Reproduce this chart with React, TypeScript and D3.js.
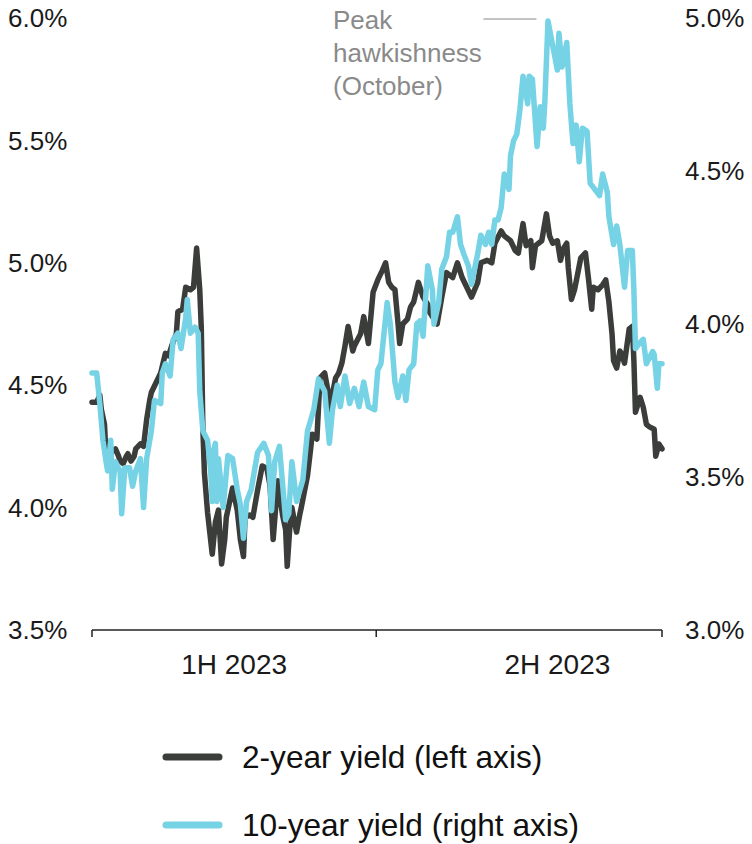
import React from "react";
import * as d3 from "d3";

// Day offsets from 1 Jan 2023 and yields (%)
const days2y = [
  0, 3, 5, 6, 8, 9, 11, 13, 15, 17,
  18, 20, 22, 23, 25, 27, 28, 31, 33, 35,
  37, 38, 41, 44, 47, 49, 51, 54, 55, 58,
  60, 63, 65, 67, 69, 70, 71, 72, 74, 77,
  79, 81, 83, 85, 86, 90, 93, 95, 97, 98,
  101, 103, 106, 109, 112, 114, 116, 118, 119, 122,
  124, 125, 127, 128, 130, 131, 133, 134, 138, 140,
  141, 144, 146, 149, 151, 152, 156, 158, 160, 162,
  164, 167, 168, 172, 174, 177, 180, 183, 186, 188,
  190, 192, 194, 196, 197, 199, 202, 204, 206, 209,
  212, 215, 216, 219, 221, 224, 227, 231, 234, 237,
  240, 243, 247, 249, 253, 256, 258, 262, 264, 268,
  271, 273, 276, 278, 281, 282, 284, 288, 291, 293,
  295, 298, 300, 302, 304, 305, 307, 309, 313, 316,
  318, 320, 321, 324, 327, 329, 331, 333, 334, 336,
  338, 339, 341, 344, 346, 347, 348, 351, 353, 355,
  357, 360, 361, 363, 365,
];
const yield2y = [
  4.43, 4.43, 4.46, 4.40, 4.34, 4.21, 4.21, 4.23, 4.24, 4.21,
  4.19, 4.18, 4.21, 4.22, 4.19, 4.21, 4.24, 4.26, 4.25, 4.36,
  4.44, 4.47, 4.51, 4.55, 4.63, 4.62, 4.66, 4.71, 4.80, 4.81,
  4.90, 4.89, 4.90, 5.06, 4.89, 4.73, 4.32, 4.14, 3.98, 3.81,
  3.94, 3.99, 3.77, 3.87, 3.96, 4.08, 3.99, 3.87, 3.80, 3.96,
  3.97, 3.96, 4.07, 4.17, 4.16, 4.09, 3.87, 4.03, 4.11, 3.97,
  3.91, 3.76, 3.95, 4.00, 3.93, 3.90, 3.97, 4.00, 4.13, 4.24,
  4.30, 4.28, 4.53, 4.55, 4.48, 4.40, 4.53, 4.55, 4.59, 4.66,
  4.74, 4.64, 4.66, 4.71, 4.78, 4.67, 4.88, 4.93, 4.97, 5.00,
  4.92, 4.90, 4.89, 4.75, 4.67, 4.75, 4.77, 4.82, 4.84, 4.92,
  4.86, 4.83, 4.80, 4.77, 4.75, 4.86, 4.96, 4.94, 5.00, 4.94,
  4.90, 4.86, 4.92, 5.00, 5.01, 5.00, 5.08, 5.13, 5.11, 5.09,
  5.05, 5.04, 5.16, 5.07, 5.09, 4.98, 5.07, 5.09, 5.20, 5.11,
  5.08, 5.09, 5.01, 5.06, 5.08, 4.98, 4.85, 4.89, 5.02, 5.04,
  4.93, 4.81, 4.90, 4.89, 4.91, 4.93, 4.84, 4.71, 4.60, 4.57,
  4.64, 4.63, 4.59, 4.73, 4.74, 4.60, 4.39, 4.45, 4.41, 4.34,
  4.33, 4.32, 4.21, 4.26, 4.24,
];

const days10y = [
  0, 3, 5, 7, 9, 10, 12, 13, 15, 18,
  19, 21, 24, 26, 28, 31, 33, 35, 38, 40,
  44, 45, 47, 50, 52, 55, 57, 60, 61, 63,
  66, 68, 69, 71, 74, 76, 77, 78, 79, 80,
  81, 84, 87, 90, 93, 95, 97, 99, 102, 106,
  110, 113, 115, 117, 120, 124, 126, 128, 131, 135,
  138, 142, 145, 149, 152, 154, 157, 159, 162, 165,
  168, 171, 174, 177, 181, 183, 185, 188, 189, 191,
  194, 196, 199, 201, 203, 206, 208, 210, 212, 215,
  218, 219, 222, 224, 227, 229, 231, 234, 236, 238,
  241, 243, 247, 249, 252, 254, 256, 258, 260, 262,
  264, 267, 268, 270, 272, 274, 276, 279, 280, 282,
  285, 287, 289, 290, 292, 295, 298, 299, 301, 304,
  306, 308, 310, 312, 314, 317, 319, 322, 325, 327,
  330, 331, 334, 336, 338, 341, 343, 346, 347, 348,
  351, 353, 355, 359, 360, 362, 363, 365,
];
const yield10y = [
  3.84, 3.84, 3.74, 3.62, 3.55, 3.52, 3.62, 3.46, 3.55, 3.52,
  3.38, 3.53, 3.53, 3.47, 3.52, 3.56, 3.40, 3.56, 3.65, 3.75,
  3.74, 3.84, 3.87, 3.83, 3.95, 3.97, 3.92, 4.02, 4.08, 3.97,
  3.99, 3.97, 3.78, 3.65, 3.62, 3.52, 3.42, 3.59, 3.61, 3.42,
  3.56, 3.40, 3.57, 3.56, 3.46, 3.41, 3.30, 3.42, 3.46, 3.58,
  3.61, 3.57, 3.39, 3.55, 3.60, 3.36, 3.38, 3.55, 3.42, 3.49,
  3.65, 3.72, 3.82, 3.78, 3.61, 3.72, 3.80, 3.73, 3.83, 3.74,
  3.79, 3.73, 3.81, 3.73, 3.72, 3.85, 3.87, 4.02, 4.07, 4.00,
  3.81, 3.76, 3.83, 3.75, 3.85, 3.87, 4.00, 4.01, 3.96, 4.19,
  4.11, 4.00, 4.07, 4.18, 4.22, 4.30, 4.30, 4.35, 4.26, 4.23,
  4.19, 4.13, 4.23, 4.29, 4.26, 4.30, 4.26, 4.34, 4.34, 4.38,
  4.49, 4.44, 4.55, 4.60, 4.62, 4.70, 4.81, 4.72, 4.81, 4.80,
  4.58, 4.71, 4.64, 4.73, 4.99, 4.91, 4.83, 4.95, 4.84, 4.92,
  4.72, 4.59, 4.65, 4.53, 4.64, 4.63, 4.46, 4.44, 4.42, 4.49,
  4.43, 4.35, 4.26, 4.32, 4.26, 4.12, 4.24, 4.24, 4.11, 3.92,
  3.94, 3.95, 3.87, 3.91, 3.90, 3.79, 3.87, 3.87,
];

const leftTicks = [3.5, 4.0, 4.5, 5.0, 5.5, 6.0];
const rightTicks = [3.0, 3.5, 4.0, 4.5, 5.0];
const xTickDays = [0, 182, 365];
const halfLabels = ["1H 2023", "2H 2023"];
const halfLabelDays = [91, 298];
const seriesNames = ["2-year yield (left axis)", "10-year yield (right axis)"];
const annotationLines = ["Peak", "hawkishness", "(October)"];
const annotationDay = 291;

const DARK = "#3b3d3a";
const BLUE = "#76d2e5";
const FONT = "'Liberation Sans', Arial, Helvetica, sans-serif";

export default function App() {
  const W = 752;
  const H = 844;
  const start = new Date(2023, 0, 1);
  const toDate = (d: number) => d3.timeDay.offset(start, d);

  const x = d3
    .scaleTime()
    .domain([start, toDate(365)])
    .range([92, 662]);
  const yL = d3.scaleLinear().domain([3.5, 6.0]).range([630, 18]);
  const yR = d3.scaleLinear().domain([3.0, 5.0]).range([630, 18]);

  const data2 = days2y.map((d, i) => ({ date: toDate(d), v: yield2y[i] }));
  const data10 = days10y.map((d, i) => ({ date: toDate(d), v: yield10y[i] }));

  const line2 = d3
    .line<{ date: Date; v: number }>()
    .x((d) => x(d.date))
    .y((d) => yL(d.v));
  const line10 = d3
    .line<{ date: Date; v: number }>()
    .x((d) => x(d.date))
    .y((d) => yR(d.v));

  const axisY = yL(3.5);
  const peakX = x(toDate(annotationDay));

  return (
    <svg
      width={W}
      height={H}
      style={{ position: "absolute", left: 0, top: 0, background: "#fff" }}
      fontFamily={FONT}
    >
      {/* left axis labels */}
      {leftTicks.map((t) => (
        <text key={"l" + t} x={8} y={yL(t)} dy="0.35em" fontSize={26} fill="#1a1a1a">
          {t.toFixed(1) + "%"}
        </text>
      ))}
      {/* right axis labels */}
      {rightTicks.map((t) => (
        <text key={"r" + t} x={685} y={yR(t)} dy="0.35em" fontSize={26} fill="#1a1a1a">
          {t.toFixed(1) + "%"}
        </text>
      ))}

      {/* x axis */}
      <line x1={x(toDate(0))} x2={x(toDate(365))} y1={axisY} y2={axisY} stroke="#222" strokeWidth={1.5} />
      {xTickDays.map((d) => (
        <line
          key={"xt" + d}
          x1={x(toDate(d))}
          x2={x(toDate(d))}
          y1={axisY}
          y2={axisY + 7}
          stroke="#222"
          strokeWidth={1.5}
        />
      ))}
      {halfLabels.map((lab, i) => (
        <text
          key={lab}
          x={x(toDate(halfLabelDays[i]))}
          y={axisY + 44}
          textAnchor="middle"
          fontSize={28}
          fill="#1a1a1a"
        >
          {lab}
        </text>
      ))}

      {/* series */}
      <path
        d={line2(data2) || ""}
        fill="none"
        stroke={DARK}
        strokeWidth={5.5}
        strokeLinejoin="round"
        strokeLinecap="round"
      />
      <path
        d={line10(data10) || ""}
        fill="none"
        stroke={BLUE}
        strokeWidth={5.5}
        strokeLinejoin="round"
        strokeLinecap="round"
      />

      {/* annotation */}
      <line x1={peakX - 63} x2={peakX - 10} y1={19} y2={19} stroke="#888" strokeWidth={1} />
      {annotationLines.map((s, i) => (
        <text key={s} x={333} y={29 + i * 33} fontSize={26} fill="#8a8a8a">
          {s}
        </text>
      ))}

      {/* legend */}
      {seriesNames.map((name, i) => {
        const ly = 757 + i * 68;
        return (
          <g key={name}>
            <line
              x1={166}
              x2={219}
              y1={ly}
              y2={ly}
              stroke={i === 0 ? DARK : BLUE}
              strokeWidth={7}
              strokeLinecap="round"
            />
            <text x={242} y={ly} dy="0.35em" fontSize={31.6} fill="#111">
              {name}
            </text>
          </g>
        );
      })}
    </svg>
  );
}
